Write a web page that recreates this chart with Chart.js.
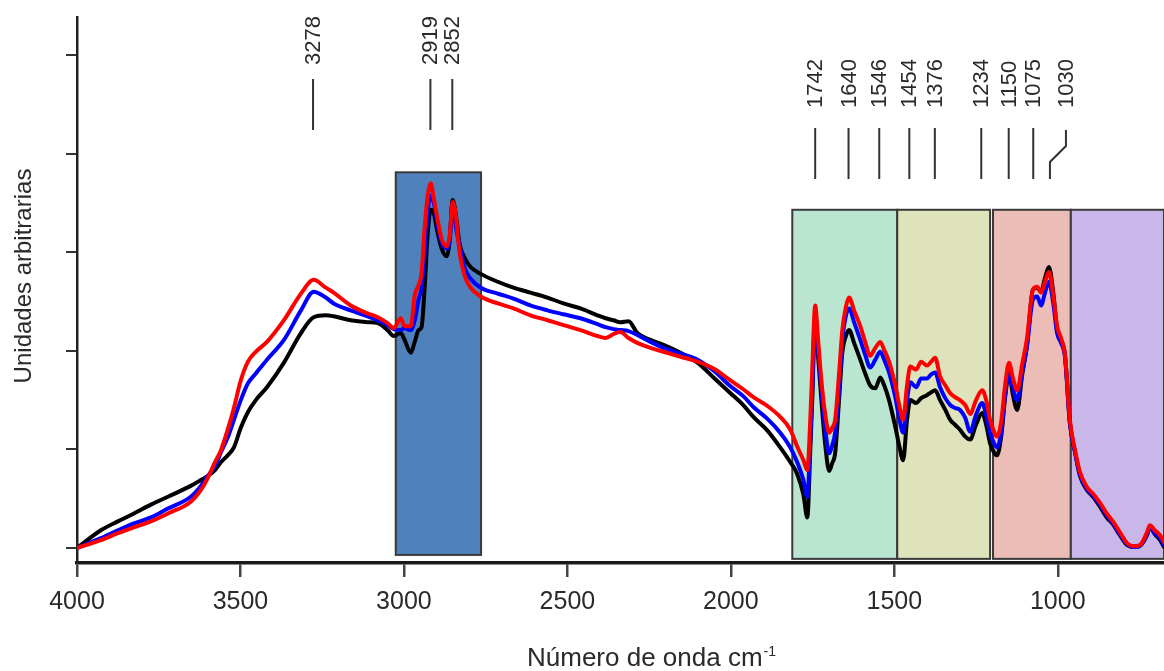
<!DOCTYPE html>
<html>
<head>
<meta charset="utf-8">
<script src="https://cdn.jsdelivr.net/npm/chart.js@4.4.1/dist/chart.umd.min.js"></script>
<style>
  html, body { margin: 0; padding: 0; background: #fff; }
  canvas { display: block; }
</style>
</head>
<body>
<canvas id="ftir" width="1164" height="671"></canvas>
<script>
// wavenumbers (cm-1), sampled along the spectrum
const wavenumbers = [
  4000, 3927, 3875, 3826, 3774, 3722, 3652, 3621, 3600,
  3578, 3560, 3539, 3520, 3499, 3477, 3453, 3419, 3367, 3315, 3276, 3239, 3215, 3163, 3111, 3080, 3050, 3031, 3010, 2998,
  2979, 2967, 2955, 2946, 2937, 2927, 2918, 2909, 2897, 2885, 2869, 2860, 2851, 2842, 2830, 2814, 2796, 2765,
  2713, 2665, 2613, 2561, 2512, 2460, 2408, 2383, 2359, 2338, 2313, 2286, 2246, 2206, 2154, 2102, 2053, 2001, 1962, 1931, 1888, 1849,
  1818, 1797, 1778, 1766, 1757, 1751, 1742, 1733, 1723, 1711, 1699, 1690, 1681, 1668, 1659, 1647, 1638, 1623, 1604, 1589,
  1574, 1558, 1543, 1531, 1516, 1497, 1485, 1473, 1461, 1451, 1433, 1418, 1400, 1387, 1375, 1360, 1344, 1329, 1314, 1299,
  1283, 1268, 1250, 1231, 1219, 1207, 1195, 1186, 1173, 1161, 1149, 1137, 1124, 1109, 1094, 1076, 1063, 1051, 1039, 1027,
  1014, 1002, 990, 978, 963,
  947, 932, 911, 892, 871, 850, 831, 810, 788, 770, 758, 743, 727, 718, 703, 687, 675
];

const redSeries = [
  0, 0.08, 0.15, 0.21, 0.27, 0.35, 0.47, 0.59, 0.71,
  0.87, 0.99, 1.20, 1.42, 1.70, 1.89, 1.99, 2.09, 2.31, 2.58, 2.72, 2.64, 2.59, 2.46, 2.38, 2.34, 2.28, 2.23, 2.33, 2.25,
  2.25, 2.56, 2.67, 2.79, 3.23, 3.58, 3.70, 3.55, 3.33, 3.14, 3.06, 3.17, 3.51, 3.39, 3.00, 2.76, 2.64, 2.55,
  2.48, 2.43, 2.36, 2.31, 2.26, 2.21, 2.15, 2.13, 2.17, 2.19, 2.13, 2.08, 2.03, 1.99, 1.94, 1.89, 1.82, 1.70, 1.61, 1.53, 1.44, 1.33,
  1.20, 1.03, 0.89, 0.79, 1.30, 1.81, 2.46, 2.11, 1.70, 1.35, 1.17, 1.22, 1.30, 1.81, 2.21, 2.46, 2.54, 2.41, 2.25, 2.09,
  1.95, 2.03, 2.09, 2.01, 1.89, 1.65, 1.45, 1.30, 1.65, 1.84, 1.81, 1.89, 1.85, 1.89, 1.93, 1.74, 1.65, 1.57, 1.53, 1.50,
  1.45, 1.36, 1.50, 1.60, 1.50, 1.30, 1.18, 1.13, 1.28, 1.65, 1.88, 1.72, 1.60, 1.86, 2.13, 2.62, 2.65, 2.59, 2.70, 2.80,
  2.57, 2.25, 2.13, 1.96, 1.30,
  0.99, 0.77, 0.62, 0.55, 0.46, 0.35, 0.27, 0.16, 0.05, 0.02, 0.02, 0.05, 0.16, 0.23, 0.18, 0.13, 0.06
];

const blueSeries = [
  0, 0.10, 0.18, 0.25, 0.31, 0.40, 0.52, 0.63, 0.73,
  0.83, 0.97, 1.12, 1.30, 1.50, 1.67, 1.77, 1.91, 2.11, 2.41, 2.60, 2.54, 2.48, 2.41, 2.35, 2.31, 2.26, 2.22, 2.21, 2.23,
  2.21, 2.31, 2.52, 2.64, 2.97, 3.43, 3.57, 3.51, 3.28, 3.10, 3.04, 3.12, 3.50, 3.28, 3.07, 2.84, 2.73, 2.64,
  2.58, 2.53, 2.46, 2.41, 2.37, 2.33, 2.27, 2.24, 2.22, 2.21, 2.20, 2.16, 2.09, 2.03, 1.97, 1.91, 1.80, 1.64, 1.54, 1.43, 1.31, 1.17,
  1.02, 0.87, 0.69, 0.52, 1.10, 1.60, 2.36, 2.01, 1.60, 1.20, 0.96, 1.04, 1.17, 1.65, 2.11, 2.37, 2.43, 2.29, 2.11, 1.96,
  1.83, 1.91, 1.99, 1.91, 1.78, 1.53, 1.32, 1.17, 1.50, 1.68, 1.63, 1.72, 1.72, 1.76, 1.78, 1.63, 1.52, 1.45, 1.42, 1.40,
  1.32, 1.18, 1.35, 1.47, 1.35, 1.17, 1.06, 1.02, 1.17, 1.55, 1.78, 1.62, 1.50, 1.78, 2.05, 2.52, 2.55, 2.46, 2.59, 2.70,
  2.49, 2.18, 2.08, 1.94, 1.27,
  0.97, 0.74, 0.60, 0.53, 0.44, 0.33, 0.25, 0.14, 0.04, 0.01, 0.01, 0.04, 0.14, 0.21, 0.15, 0.10, 0.03
];

const blackSeries = [
  0, 0.18, 0.27, 0.35, 0.44, 0.52, 0.63, 0.69, 0.73,
  0.79, 0.87, 0.94, 1.02, 1.22, 1.38, 1.50, 1.63, 1.88, 2.18, 2.34, 2.36, 2.35, 2.31, 2.29, 2.28, 2.21, 2.15, 2.18, 2.11,
  1.98, 2.09, 2.21, 2.24, 2.62, 3.20, 3.43, 3.40, 3.20, 3.04, 2.96, 3.12, 3.53, 3.40, 3.09, 2.94, 2.85, 2.78,
  2.70, 2.64, 2.59, 2.54, 2.48, 2.43, 2.36, 2.33, 2.31, 2.29, 2.30, 2.18, 2.11, 2.06, 1.98, 1.88, 1.73, 1.57, 1.45, 1.33, 1.19, 1.02,
  0.87, 0.75, 0.54, 0.31, 0.99, 1.50, 2.34, 1.94, 1.50, 1.04, 0.78, 0.86, 0.96, 1.55, 1.98, 2.16, 2.21, 2.08, 1.91, 1.77,
  1.65, 1.62, 1.73, 1.65, 1.50, 1.23, 1.04, 0.89, 1.30, 1.50, 1.47, 1.52, 1.55, 1.58, 1.60, 1.50, 1.40, 1.30, 1.25, 1.20,
  1.13, 1.10, 1.25, 1.37, 1.25, 1.06, 0.97, 0.94, 1.13, 1.53, 1.77, 1.55, 1.40, 1.75, 2.06, 2.62, 2.64, 2.60, 2.74, 2.85,
  2.60, 2.21, 2.11, 1.96, 1.27,
  0.97, 0.73, 0.59, 0.52, 0.42, 0.31, 0.24, 0.13, 0.03, 0.01, 0.01, 0.04, 0.13, 0.21, 0.14, 0.08, 0.01
];

const xTicks = [4000, 3500, 3000, 2500, 2000, 1500, 1000];
const yTicks = [0, 1, 2, 3, 4, 5];

// shaded spectral regions: [from, to] in cm-1, top in arbitrary units
const regionFrom = [3025, 1812, 1491, 1198, 960];
const regionTo   = [2764, 1491, 1207, 960, 675];
const regionTop  = [3.81, 3.43, 3.43, 3.43, 3.43];
const regionBottom = [-0.07, -0.11, -0.11, -0.11, -0.11];
const regionColors = ['#4f81bd', '#bae5d1', '#dfe3bb', '#ecbcb6', '#c8b7e8'];

// assigned bands
const bandLabels = [3278, 2919, 2852, 1742, 1640, 1546, 1454, 1376, 1234, 1150, 1075, 1030];

const FONT = '"Liberation Sans", Arial, sans-serif';

function toPoints(values) {
  return wavenumbers.map((w, i) => ({ x: w, y: values[i] }));
}

const regionsPlugin = {
  id: 'regions',
  beforeDatasetsDraw(chart) {
    const { ctx, scales: { x, y } } = chart;
    ctx.save();
    for (let i = 0; i < regionFrom.length; i++) {
      const x0 = x.getPixelForValue(regionFrom[i]);
      const x1 = Math.min(x.getPixelForValue(regionTo[i]), chart.width + 2);
      const y0 = y.getPixelForValue(regionTop[i]);
      const y1 = y.getPixelForValue(regionBottom[i]);
      ctx.fillStyle = regionColors[i];
      ctx.fillRect(x0, y0, x1 - x0, y1 - y0);
      ctx.lineWidth = 2;
      ctx.strokeStyle = '#3a3a3a';
      ctx.strokeRect(x0, y0, x1 - x0, y1 - y0);
    }
    ctx.restore();
  }
};

const bandsPlugin = {
  id: 'bands',
  afterDraw(chart) {
    const { ctx, scales: { x } } = chart;
    ctx.save();
    ctx.strokeStyle = '#333';
    ctx.fillStyle = '#2a2a2a';
    ctx.lineWidth = 2;
    ctx.font = '22px ' + FONT;
    bandLabels.forEach(b => {
      const px = x.getPixelForValue(b);
      const high = b > 2500;
      const lineTop = high ? 79 : 128;
      const lineBottom = high ? 130 : 179;
      const textBase = high ? 65 : 108;
      let tx = px;
      ctx.beginPath();
      if (b === 1030) {
        // label pushed right, leader line bent
        tx = px + 18;
        ctx.moveTo(tx, lineTop + 2);
        ctx.lineTo(tx, lineTop + 18);
        ctx.lineTo(px + 2, lineTop + 34);
        ctx.lineTo(px + 2, lineBottom);
      } else {
        ctx.moveTo(px, lineTop);
        ctx.lineTo(px, lineBottom);
      }
      ctx.stroke();
      ctx.save();
      ctx.translate(tx + 1, textBase);
      ctx.rotate(-Math.PI / 2);
      ctx.textAlign = 'left';
      ctx.textBaseline = 'middle';
      ctx.fillText(String(b), 0, 0);
      ctx.restore();
    });

    // axis titles
    ctx.fillStyle = '#2a2a2a';
    ctx.font = '26px ' + FONT;
    ctx.textAlign = 'left';
    ctx.textBaseline = 'alphabetic';
    const title = 'Número de onda cm';
    ctx.fillText(title, 527, 666);
    const tw = ctx.measureText(title).width;
    ctx.font = '14px ' + FONT;
    ctx.fillText('-1', 527 + tw + 1, 656);

    ctx.save();
    ctx.translate(24, 276);
    ctx.rotate(-Math.PI / 2);
    ctx.font = '24px ' + FONT;
    ctx.textAlign = 'center';
    ctx.textBaseline = 'middle';
    ctx.fillText('Unidades arbitrarias', 0, 0);
    ctx.restore();
    ctx.restore();
  }
};

new Chart(document.getElementById('ftir').getContext('2d'), {
  type: 'line',
  data: {
    datasets: [
      { label: 'rojo', data: toPoints(redSeries), borderColor: '#ff0000', borderWidth: 4, order: 1 },
      { label: 'azul', data: toPoints(blueSeries), borderColor: '#0000ff', borderWidth: 4, order: 2 },
      { label: 'negro', data: toPoints(blackSeries), borderColor: '#000000', borderWidth: 4, order: 3 }
    ]
  },
  options: {
    responsive: false,
    animation: false,
    devicePixelRatio: 1,
    layout: { padding: { top: 17, right: 0, left: 0, bottom: 0 } },
    elements: {
      point: { radius: 0 },
      line: { cubicInterpolationMode: 'monotone', borderJoinStyle: 'round', borderCapStyle: 'round' }
    },
    plugins: { legend: { display: false }, tooltip: { enabled: false } },
    scales: {
      x: {
        type: 'linear',
        reverse: true,
        min: 675,
        max: 4000,
        afterBuildTicks: s => { s.ticks = xTicks.map(v => ({ value: v })); },
        afterFit: s => { s.height = 108; },
        grid: { drawOnChartArea: false, drawTicks: true, tickLength: 14, color: '#444', lineWidth: 2.5 },
        border: { display: true, color: '#1a1a1a', width: 3.5 },
        ticks: { color: '#2a2a2a', font: { family: FONT, size: 25 }, padding: 10, maxRotation: 0, callback: v => String(v) }
      },
      y: {
        type: 'linear',
        min: -0.152,
        max: 5.385,
        afterBuildTicks: s => { s.ticks = yTicks.map(v => ({ value: v })); },
        afterFit: s => { s.width = 77; },
        grid: { drawOnChartArea: false, drawTicks: true, tickLength: 11, color: '#333', lineWidth: 2 },
        border: { display: true, color: '#222', width: 2.5 },
        ticks: { display: true, callback: () => '' }
      }
    }
  },
  plugins: [regionsPlugin, bandsPlugin]
});
</script>
</body>
</html>
